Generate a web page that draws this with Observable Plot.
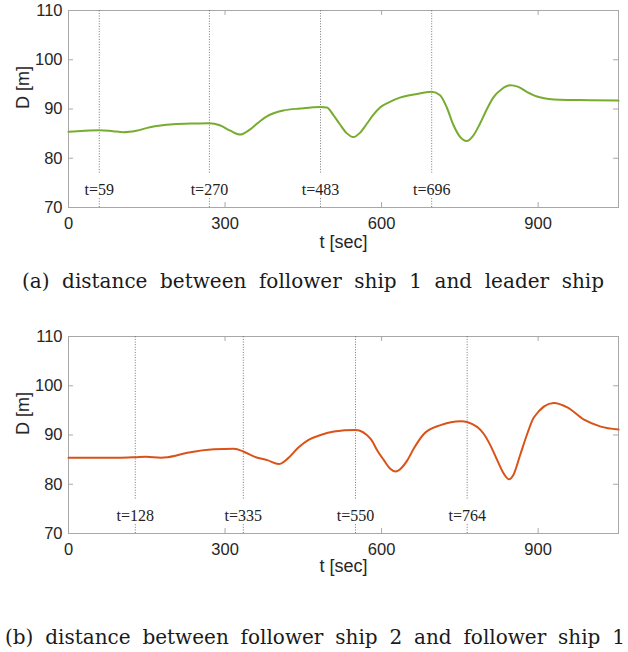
<!DOCTYPE html>
<html>
<head>
<meta charset="utf-8">
<script src="https://cdn.jsdelivr.net/npm/d3@7"></script>
<script src="https://cdn.jsdelivr.net/npm/@observablehq/plot@0.6"></script>
<style>
  html, body { margin: 0; padding: 0; background: #fff; }
  #root { position: relative; width: 628px; height: 652px; overflow: hidden; }
  .chart { position: absolute; left: 0; }
  .cap { position: absolute; left: 0; white-space: nowrap; font-family: "DejaVu Serif", serif; font-size: 20px; line-height: 20px; color: #1a1a1a; }
</style>
</head>
<body>
<div id="root"></div>
<script>
// ---- data ----
const xTicks = [0, 300, 600, 900];
const yTicks = [70, 80, 90, 100, 110];

// (a) follower ship 1 vs leader ship
const t1 = [0, 30, 59, 85, 105, 130, 156, 201, 240, 270, 290, 310, 329, 346, 362, 380, 412, 444, 483, 495, 508, 520, 533, 546, 558, 571, 584, 597, 615, 635, 665, 696, 712, 725, 737, 750, 763, 775, 788, 801, 814, 830, 846, 862, 878, 903, 941, 1000, 1054];
const d1 = [85.4, 85.6, 85.7, 85.5, 85.3, 85.6, 86.3, 86.9, 87.05, 87.1, 86.7, 85.6, 84.8, 85.7, 87.1, 88.5, 89.7, 90.1, 90.4, 90.3, 88.7, 86.9, 85.1, 84.3, 85.1, 86.9, 88.8, 90.3, 91.4, 92.3, 93.0, 93.5, 92.8, 90.3, 86.9, 84.4, 83.5, 84.5, 86.9, 89.8, 92.3, 94.0, 94.8, 94.5, 93.5, 92.4, 91.9, 91.8, 91.7];
const events1 = [59, 270, 483, 696];

// (b) follower ship 2 vs follower ship 1
const t2 = [0, 100, 128, 148, 177, 190, 228, 279, 317, 336, 356, 381, 403, 420, 440, 460, 483, 509, 550, 579, 592, 605, 616, 627, 638, 649, 662, 681, 713, 752, 765, 796, 809, 822, 835, 844, 853, 866, 879, 892, 930, 956, 988, 1020, 1054];
const d2 = [85.4, 85.4, 85.5, 85.6, 85.4, 85.5, 86.4, 87.1, 87.2, 86.6, 85.6, 84.9, 84.1, 85.2, 87.4, 89.0, 90.0, 90.7, 91.0, 89.2, 86.8, 84.8, 83.2, 82.6, 83.3, 84.8, 87.3, 90.2, 92.0, 92.8, 92.6, 90.2, 87.8, 84.8, 82.0, 81.0, 82.0, 86.1, 90.2, 93.6, 96.5, 95.6, 93.1, 91.7, 91.1];
const events2 = [128, 335, 550, 764];

const captionA = "(a) distance between follower ship 1 and leader ship";
const captionB = "(b) distance between follower ship 2 and follower ship 1";
const xLabel = "t [sec]";
const yLabel = "D [m]";

// ---- drawing ----
function makeChart(ts, ds, events, color, xLabelDy) {
  const data = ts.map((t, i) => ({t, d: ds[i]}));
  const ev = events.map(e => ({e, label: "t=" + e}));
  return Plot.plot({
    width: 628,
    height: 256,
    marginTop: 10,
    marginBottom: 49,
    marginLeft: 68,
    marginRight: 10,
    style: {fontFamily: '"Liberation Sans", Arial, sans-serif', fontSize: "16.5px", color: "#262626", background: "white", overflow: "visible"},
    x: {domain: [0, 1054]},
    y: {domain: [70, 110]},
    marks: [
      Plot.frame({stroke: "#a8a8a8", strokeWidth: 1}),
      // inner ticks on all four sides
      Plot.ruleX(xTicks, {x: d => d, y1: 70, y2: 71, stroke: "#a8a8a8"}),
      Plot.ruleX(xTicks, {x: d => d, y1: 109, y2: 110, stroke: "#a8a8a8"}),
      Plot.ruleY(yTicks, {y: d => d, x1: 0, x2: 9.5, stroke: "#a8a8a8"}),
      Plot.ruleY(yTicks, {y: d => d, x1: 1044.5, x2: 1054, stroke: "#a8a8a8"}),
      Plot.axisX({ticks: xTicks, tickSize: 0, tickPadding: 10, label: null, tickFormat: d => String(d)}),
      Plot.axisY({ticks: yTicks, tickSize: 0, tickPadding: 6, label: null, tickFormat: d => String(d)}),
      // dotted event lines (interrupted by their labels)
      Plot.ruleX(ev, {x: "e", y1: 77, y2: 110, stroke: "#555", strokeWidth: 0.8, strokeDasharray: "1,1.6"}),
      Plot.ruleX(ev, {x: "e", y1: 70, y2: 71.8, stroke: "#555", strokeWidth: 0.8, strokeDasharray: "1,1.6"}),
      Plot.text(ev, {x: "e", y: 73.6, text: "label", fontFamily: '"Liberation Serif", "Times New Roman", serif', fontSize: 16, fill: "#222"}),
      Plot.line(data, {x: "t", y: "d", stroke: color, strokeWidth: 2, curve: "monotone-x"}),
      Plot.text([xLabel], {frameAnchor: "bottom", dy: xLabelDy, text: d => d, fontSize: 18, fill: "#262626"}),
      Plot.text([yLabel], {frameAnchor: "left", dx: -45, rotate: -90, text: d => d, fontSize: 18, fill: "#262626"})
    ]
  });
}

const root = document.getElementById("root");

const c1 = makeChart(t1, d1, events1, "#77AC30", 40);
c1.classList.add("chart");
c1.style.top = "0px";
root.appendChild(c1);

const c2 = makeChart(t2, d2, events2, "#D95319", 38);
c2.classList.add("chart");
c2.style.top = "326px";
root.appendChild(c2);

function caption(text, top, left, targetWidth) {
  const el = document.createElement("div");
  el.className = "cap";
  el.textContent = text;
  el.style.top = top + "px";
  el.style.left = left + "px";
  root.appendChild(el);
  const w = el.getBoundingClientRect().width;
  const spaces = (text.match(/ /g) || []).length;
  if (spaces > 0) el.style.wordSpacing = ((targetWidth - w) / spaces) + "px";
}
caption(captionA, 271, 22, 582);
caption(captionB, 627, 5, 620);
</script>
</body>
</html>
